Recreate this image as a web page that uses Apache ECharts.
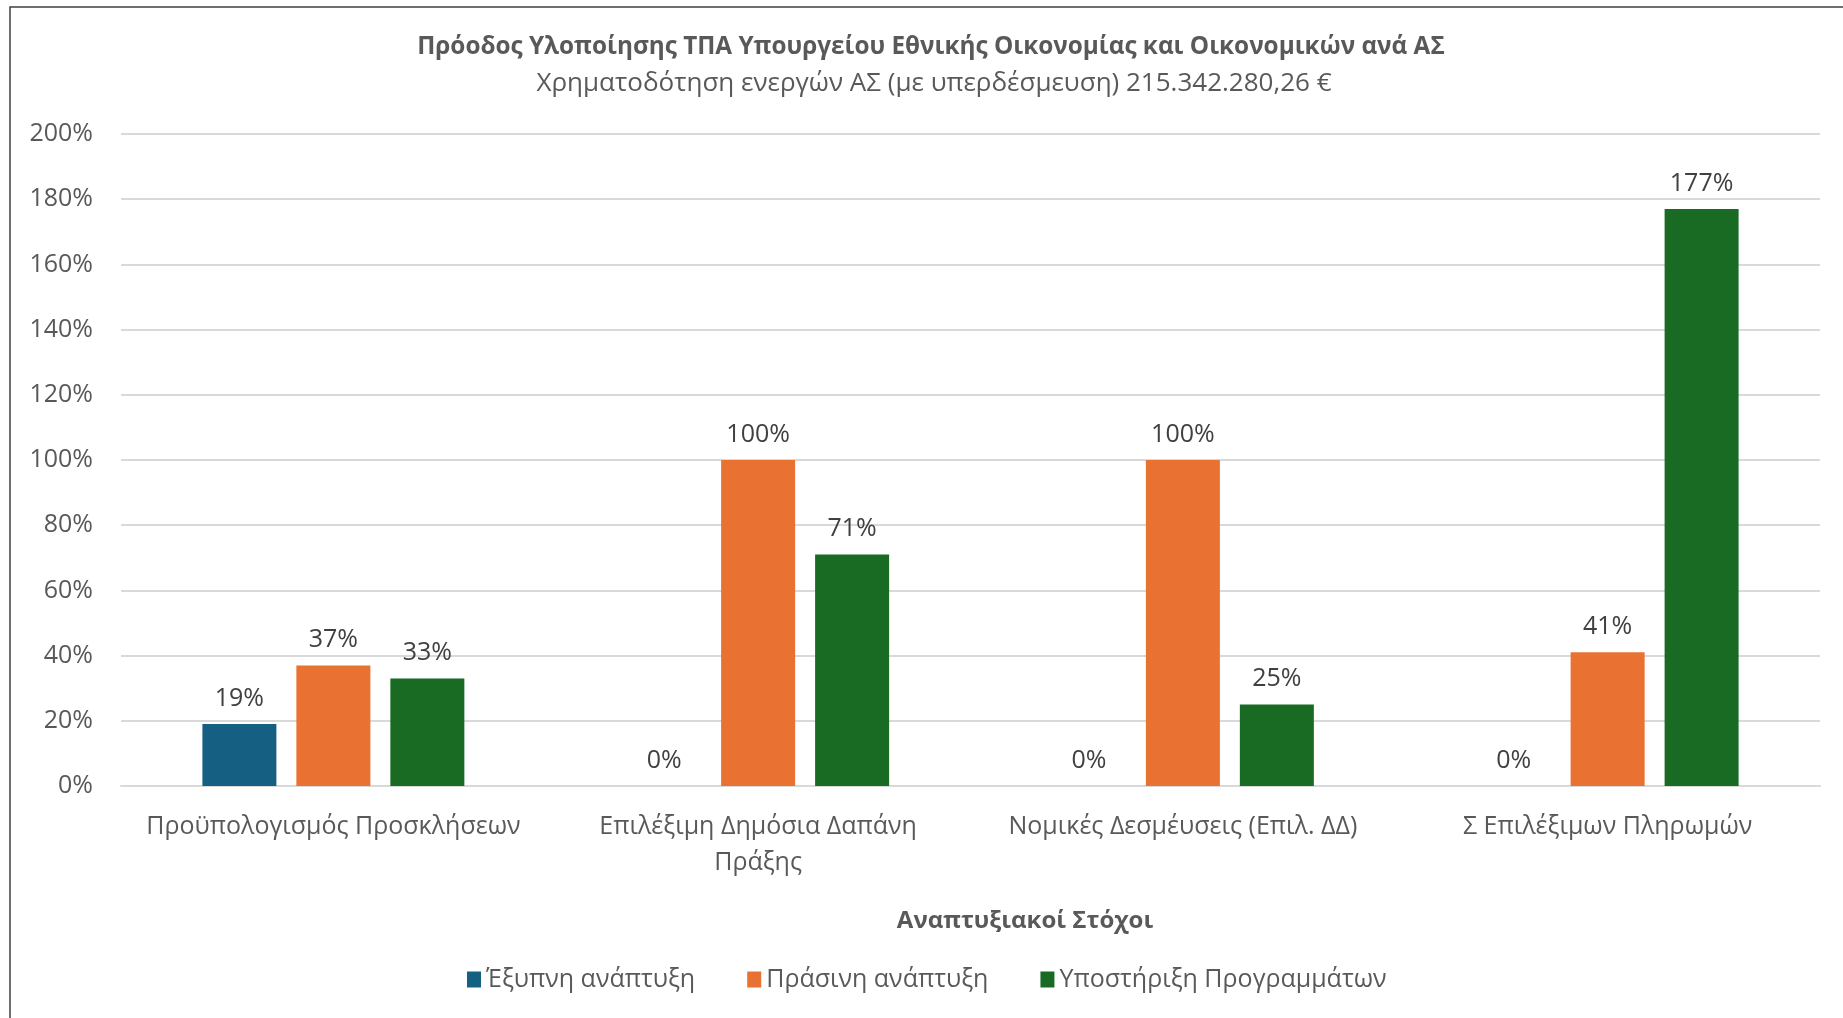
<!DOCTYPE html>
<html><head><meta charset="utf-8">
<script src="https://cdn.jsdelivr.net/npm/echarts@6/dist/echarts.min.js"></script>
<style>html,body{margin:0;padding:0;background:#fff}#c{width:1843px;height:1018px}</style>
</head><body><div id="c"></div>
<script>
const titleText = 'Πρόοδος Υλοποίησης ΤΠΑ Υπουργείου Εθνικής Οικονομίας και Οικονομικών ανά ΑΣ';
const subtitleText = 'Χρηματοδότηση ενεργών ΑΣ (με υπερδέσμευση) 215.342.280,26 €';
const xAxisName = 'Αναπτυξιακοί Στόχοι';
const categories = ['Προϋπολογισμός Προσκλήσεων', 'Επιλέξιμη Δημόσια Δαπάνη\nΠράξης', 'Νομικές Δεσμέυσεις (Επιλ. ΔΔ)', 'Σ Επιλέξιμων Πληρωμών'];
const seriesNames = ['Έξυπνη ανάπτυξη', 'Πράσινη ανάπτυξη', 'Υποστήριξη Προγραμμάτων'];
const smartGrowth = [19, 0, 0, 0];
const greenGrowth = [37, 100, 100, 41];
const programSupport = [33, 71, 25, 177];
const colors = ['#156082', '#E97132', '#196B24'];
const FONT = '"Open Sans", sans-serif';

const chart = echarts.init(document.getElementById('c'), null, {renderer: 'canvas'});
const mk = (name, data, color) => ({
  name, type: 'bar', data,
  barWidth: 74, barGap: '27%',
  itemStyle: {color},
  label: {show: true, position: 'top', distance: 13, formatter: '{c}%', color: '#404040', fontSize: 25, fontFamily: FONT}
});
chart.setOption({
  animation: false,
  title: [
    {text: titleText, left: 926, textAlign: 'center', top: 30, textStyle: {fontSize: 24.3, fontWeight: 'bold', color: '#595959', fontFamily: FONT}},
    {text: subtitleText, left: 929, textAlign: 'center', top: 66, textStyle: {fontSize: 26, fontWeight: 'normal', color: '#595959', fontFamily: FONT}}
  ],
  graphic: [
    {type: 'rect', shape: {x: 10, y: 7, width: 1900, height: 1100}, style: {fill: 'none', stroke: '#404040', lineWidth: 1.5}, silent: true},
    {type: 'text', x: 1025, y: 921, style: {text: xAxisName, textAlign: 'center', textVerticalAlign: 'middle', fontSize: 24, fontWeight: 'bold', fill: '#595959', fontFamily: FONT}, silent: true}
  ],
  legend: {
    bottom: 21, left: 462, itemWidth: 14, itemHeight: 16, itemGap: 52,
    icon: 'rect',
    textStyle: {fontSize: 25, color: '#595959', fontFamily: FONT},
    data: seriesNames
  },
  grid: {left: 121, right: 23, top: 134, bottom: 232},
  xAxis: {
    type: 'category', data: categories,
    axisLine: {show: true, lineStyle: {color: '#D9D9D9', width: 2}},
    axisTick: {show: false},
    axisLabel: {fontSize: 25, color: '#595959', fontFamily: FONT, margin: 23, lineHeight: 36, interval: 0}
  },
  yAxis: {
    type: 'value', min: 0, max: 200, interval: 20,
    axisLabel: {formatter: '{value}%', fontSize: 25, color: '#595959', fontFamily: FONT, margin: 28},
    splitLine: {lineStyle: {color: '#D9D9D9', width: 2}},
    axisLine: {show: false}, axisTick: {show: false}
  },
  series: [
    mk(seriesNames[0], smartGrowth, colors[0]),
    mk(seriesNames[1], greenGrowth, colors[1]),
    mk(seriesNames[2], programSupport, colors[2])
  ]
});
</script></body></html>
